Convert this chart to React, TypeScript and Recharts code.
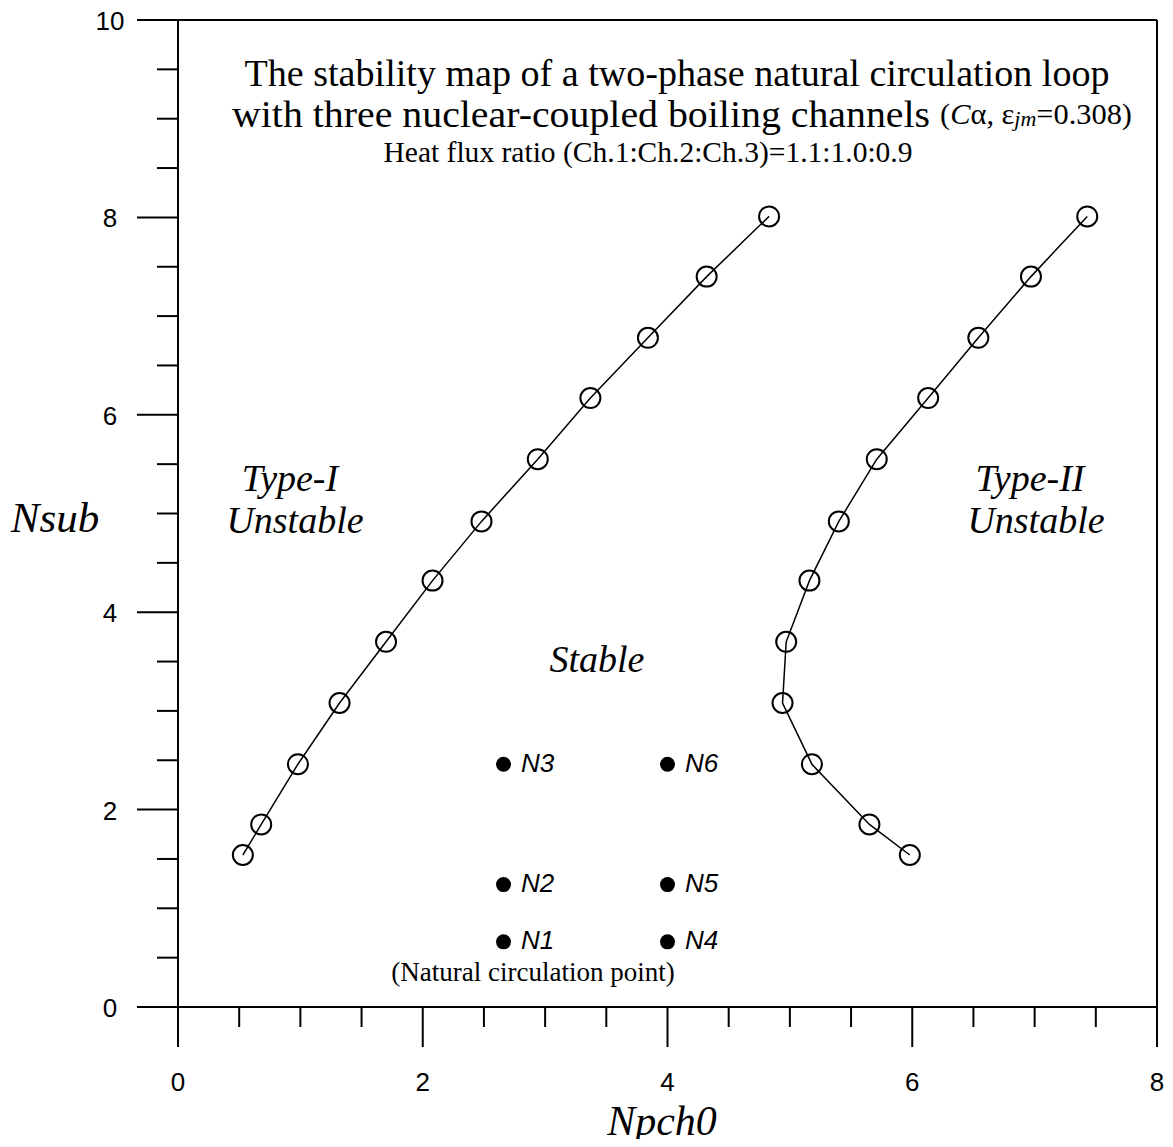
import React from 'react';
import {
  ScatterChart, Scatter, XAxis, YAxis, ReferenceLine, LabelList,
} from 'recharts';

// Type-I boundary (left curve)
const typeOneNpch = [0.53, 0.68, 0.98, 1.32, 1.70, 2.08, 2.48, 2.94, 3.37, 3.84, 4.32, 4.83];
const typeOneNsub = [1.54, 1.85, 2.46, 3.08, 3.70, 4.32, 4.92, 5.55, 6.17, 6.78, 7.40, 8.01];

// Type-II boundary (right curve)
const typeTwoNpch = [5.98, 5.65, 5.18, 4.94, 4.97, 5.16, 5.40, 5.71, 6.13, 6.54, 6.97, 7.43];
const typeTwoNsub = [1.54, 1.85, 2.46, 3.08, 3.70, 4.32, 4.92, 5.55, 6.17, 6.78, 7.40, 8.01];

// natural circulation points
const nPointNames = ['N1', 'N2', 'N3', 'N4', 'N5', 'N6'];
const nPointNpch = [2.66, 2.66, 2.66, 4.0, 4.0, 4.0];
const nPointNsub = [0.66, 1.24, 2.46, 0.66, 1.24, 2.46];

const xTicks = [0, 0.5, 1, 1.5, 2, 2.5, 3, 3.5, 4, 4.5, 5, 5.5, 6, 6.5, 7, 7.5, 8];
const yTicks = [0, 0.5, 1, 1.5, 2, 2.5, 3, 3.5, 4, 4.5, 5, 5.5, 6, 6.5, 7, 7.5, 8, 8.5, 9, 9.5, 10];

const typeOne = typeOneNpch.map((x, i) => ({ x, y: typeOneNsub[i] }));
const typeTwo = typeTwoNpch.map((x, i) => ({ x, y: typeTwoNsub[i] }));
const nPoints = nPointNames.map((name, i) => ({ name, x: nPointNpch[i], y: nPointNsub[i] }));

const SANS = '"Liberation Sans", Arial, sans-serif';
const SERIF = '"Liberation Serif", "Times New Roman", serif';

const isMajor = (v: number) => Math.abs(v % 2) < 1e-9;

const XTick = (props: any) => {
  const { x, y, payload } = props;
  const major = isMajor(payload.value);
  return (
    <g>
      <line x1={x} y1={y} x2={x} y2={y + (major ? 40 : 20)} stroke="#000" strokeWidth={2} />
      {major && (
        <text x={x} y={y + 75} textAnchor="middle" dominantBaseline="central"
          fontFamily={SANS} fontSize={26} fill="#000">{payload.value}</text>
      )}
    </g>
  );
};

const YTick = (props: any) => {
  const { x, y, payload } = props;
  const major = isMajor(payload.value);
  return (
    <g>
      <line x1={x - (major ? 41 : 21)} y1={y} x2={x} y2={y} stroke="#000" strokeWidth={2} />
      {major && (
        <text x={x - 68} y={y + 1} textAnchor="middle" dominantBaseline="central"
          fontFamily={SANS} fontSize={26} fill="#000">{payload.value}</text>
      )}
    </g>
  );
};

const OpenCircle = (props: any) => (
  <circle cx={props.cx} cy={props.cy} r={10} fill="none" stroke="#000" strokeWidth={2} />
);

const FilledDot = (props: any) => (
  <circle cx={props.cx} cy={props.cy} r={7.5} fill="#000" />
);

const NLabel = (props: any) => {
  const { x, y, value } = props;
  return (
    <text x={x + 22} y={y + 3} dominantBaseline="central" fontFamily={SANS}
      fontStyle="italic" fontSize={26} fill="#000">{value}</text>
  );
};

export default function App() {
  return (
    <div style={{ position: 'relative', width: 1165, height: 1139, margin: '-8px 0 0 -8px' }}>
      <ScatterChart width={1165} height={1139}
        margin={{ top: 20, right: 8, left: 0, bottom: 0 }}>
        <XAxis type="number" dataKey="x" domain={[0, 8]} ticks={xTicks}
          interval={0} height={132} tickSize={0} tickMargin={0} tickLine={false}
          tick={<XTick />} axisLine={{ stroke: '#000', strokeWidth: 2 }} allowDataOverflow />
        <YAxis type="number" dataKey="y" domain={[0, 10]} ticks={yTicks}
          interval={0} width={178} tickSize={0} tickMargin={0} tickLine={false}
          tick={<YTick />} axisLine={{ stroke: '#000', strokeWidth: 2 }} allowDataOverflow />
        <ReferenceLine y={10} stroke="#000" strokeWidth={2} />
        <ReferenceLine x={8} stroke="#000" strokeWidth={2} />
        <Scatter data={typeOne} line={{ stroke: '#000', strokeWidth: 1.5 }}
          shape={<OpenCircle />} isAnimationActive={false} />
        <Scatter data={typeTwo} line={{ stroke: '#000', strokeWidth: 1.5 }}
          shape={<OpenCircle />} isAnimationActive={false} />
        <Scatter data={nPoints} shape={<FilledDot />} isAnimationActive={false}>
          <LabelList dataKey="name" content={<NLabel />} />
        </Scatter>
      </ScatterChart>
      <svg width={1165} height={1147}
        style={{ position: 'absolute', left: 0, top: 0, pointerEvents: 'none' }}>
        <g fontFamily={SERIF} fill="#000" textAnchor="middle">
          <text x={677} y={73} fontSize={38} dominantBaseline="central"
            textLength={865} lengthAdjust="spacingAndGlyphs">
            The stability map of a two-phase natural circulation loop
          </text>
          <text x={682} y={114} fontSize={38} dominantBaseline="central"
            textLength={900} lengthAdjust="spacingAndGlyphs">
            with three nuclear-coupled boiling channels{'  '}
            <tspan fontSize={29}>(</tspan>
            <tspan fontSize={29} fontStyle="italic">C</tspan>
            <tspan fontSize={29}>α, ε</tspan>
            <tspan fontSize={21} fontStyle="italic" dy={5}>jm</tspan>
            <tspan fontSize={29} dy={-5}>=0.308)</tspan>
          </text>
          <text x={648} y={152} fontSize={29} dominantBaseline="central"
            textLength={529} lengthAdjust="spacingAndGlyphs">
            Heat flux ratio (Ch.1:Ch.2:Ch.3)=1.1:1.0:0.9
          </text>
          <g fontStyle="italic" fontSize={38}>
            <text x={290} y={478} dominantBaseline="central">Type-I</text>
            <text x={295} y={520} dominantBaseline="central">Unstable</text>
            <text x={1030} y={478} dominantBaseline="central">Type-II</text>
            <text x={1036} y={520} dominantBaseline="central">Unstable</text>
            <text x={597} y={659} dominantBaseline="central">Stable</text>
          </g>
          <text x={533} y={972} fontSize={27} dominantBaseline="central">
            (Natural circulation point)
          </text>
          <text x={55} y={517} fontSize={43} fontStyle="italic" dominantBaseline="central">Nsub</text>
          <text x={662} y={1121} fontSize={42} fontStyle="italic" dominantBaseline="central">Npch0</text>
        </g>
      </svg>
    </div>
  );
}
